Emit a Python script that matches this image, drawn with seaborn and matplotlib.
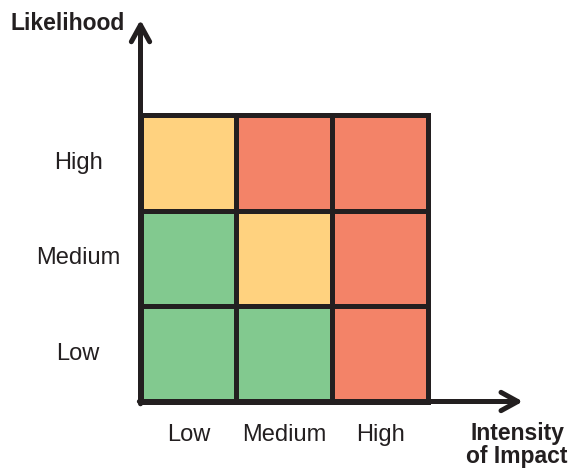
import numpy as np
import pandas as pd
import matplotlib
matplotlib.use("Agg")
import matplotlib.pyplot as plt
from matplotlib.colors import ListedColormap
import seaborn as sns

# risk matrix data: rows = likelihood (top to bottom), cols = impact
likelihood = ["High", "Medium", "Low"]
impact = ["Low", "Medium", "High"]
# 0 = low risk (green), 1 = medium (yellow), 2 = high (red)
risk_high = [1, 2, 2]
risk_medium = [0, 1, 2]
risk_low = [0, 0, 2]
risk_colors = ["#82C98F", "#FFD27F", "#F38368"]

df = pd.DataFrame([risk_high, risk_medium, risk_low], index=likelihood, columns=impact)

sns.set_style("white")
plt.rcParams['font.family'] = ['Liberation Sans', 'DejaVu Sans']
ink = "#231F20"

fig = plt.figure(figsize=(5.74, 4.71), dpi=100)
ax = fig.add_axes([140.5 / 574, 69.5 / 471, 287.5 / 574, 286.5 / 471])

sns.heatmap(df, ax=ax, cmap=ListedColormap(risk_colors), vmin=-0.5, vmax=2.5,
            cbar=False, linewidths=3.6, linecolor=ink, square=False)
ax.collections[0].set_clip_on(False)

for s in ax.spines.values():
    s.set_visible(False)

ax.tick_params(axis="both", length=0)
ax.tick_params(axis="x", pad=16.5, labelsize=17, labelcolor=ink)
ax.tick_params(axis="y", pad=45, labelsize=17, labelcolor=ink)
for t in ax.get_yticklabels():
    t.set_rotation(0)
    t.set_ha("center")
    t.set_va("center")
ax.set_xlabel("")
ax.set_ylabel("")

# axis arrows from the bottom-left corner
arrow = dict(arrowstyle="->,head_length=1.0,head_width=0.55", color=ink,
             lw=3.6, mutation_scale=12, shrinkA=0, shrinkB=0)
ax.annotate("", xy=(0, 1.332), xytext=(0, -0.008), xycoords="axes fraction",
            arrowprops=arrow, annotation_clip=False)
ax.annotate("", xy=(1.33, 0), xytext=(-0.004, 0), xycoords="axes fraction",
            arrowprops=arrow, annotation_clip=False)

fig.text(68 / 574, 1 - 24 / 471, "Likelihood", ha="center", va="center",
         fontsize=16.5, fontweight="bold", color=ink)
fig.text(517 / 574, 1 - 445 / 471, "Intensity\nof Impact", ha="center", va="center",
         fontsize=16.5, fontweight="bold", color=ink, linespacing=1.05)

fig.savefig("out.png", dpi=100)
